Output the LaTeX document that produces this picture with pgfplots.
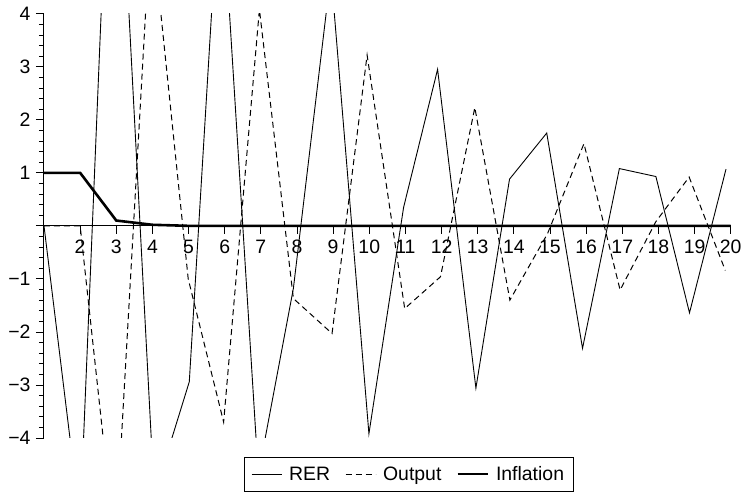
\documentclass[border=0pt]{standalone}
\usepackage{pgfplots}
\pgfplotsset{compat=1.18}
\usepackage{fontspec}
\setmainfont{Liberation Sans}

\begin{document}
\begin{tikzpicture}
\begin{axis}[
  scale only axis,
  width=686.7bp, height=424.3bp,
  xmin=1, xmax=20, ymin=-4, ymax=4,
  axis x line*=middle, axis y line*=left,
  xtick={2,...,20},
  ytick={-4,...,4},
  yticklabels={−4,−3,−2,−1,,1,2,3,4},
  minor y tick num=4,
  tick align=outside,
  major tick length=8bp, minor tick length=5bp,
  tick style={black, line width=0.8bp},
  axis line style={black, line width=1bp},
  every tick label/.append style={font=\fontsize{19.5}{22}\selectfont},
  xticklabel style={yshift=-3bp},
  yticklabel style={xshift=-2bp},
  /pgf/number format/assume math mode=true,
  legend columns=3,
  legend cell align=left,
  legend image code/.code={\draw[#1] (0bp,0bp) -- (30bp,0bp);},
  legend style={at={(axis description cs:0.531,0)}, anchor=north, yshift=-19bp,
    draw=black, line width=0.8bp, font=\fontsize{19.5}{22}\selectfont, inner xsep=7bp, inner ysep=7bp,
    /tikz/every odd column/.append style={column sep=5bp},
    /tikz/every even column/.append style={column sep=13bp}},
]
\coordinate (O) at (rel axis cs:0,0);
\addplot[black, line width=0.9bp] coordinates {
(1,0) (2.0,-5.57) (2.92,9.6) (4.05,-5.08) (5.02,-2.94) (5.88,6.76) (6.93,-4.69)
(7.9,-1.18) (8.94,4.77) (9.99,-3.92) (10.95,0.35) (11.89,2.95) (12.95,-3.06)
(13.88,0.88) (14.91,1.75) (15.9,-2.31) (16.92,1.08) (17.93,0.93) (18.86,-1.64)
(19.87,1.07)
};
\addlegendentry{RER}
\addplot[black, line width=1bp, dash pattern=on 6bp off 4bp] coordinates {
(1,0) (2,0) (2.97,-6.08) (3.96,5.81) (4.99,-1.0) (5.97,-3.70) (6.96,4.08)
(7.9,-1.37) (8.97,-2.03) (9.94,3.22) (10.98,-1.56) (11.97,-0.96) (12.92,2.23)
(13.89,-1.40) (14.93,-0.15) (15.94,1.55) (16.94,-1.21) (17.93,0.08) (18.85,0.92)
(19.85,-0.84)
};
\addlegendentry{Output}
\addplot[black, line width=2.6bp] coordinates {
(1,1) (2,1) (3,0.1) (4,0.02) (5,0) (6,0) (7,0) (8,0) (9,0) (10,0) (11,0) (12,0)
(13,0) (14,0) (15,0) (16,0) (17,0) (18,0) (19,0) (20,0)
};
\addlegendentry{Inflation}
\end{axis}
\pgfresetboundingbox
\useasboundingbox ([shift={(-44bp,-57bp)}]O) rectangle ([shift={(699bp,438bp)}]O);
\end{tikzpicture}
\end{document}
